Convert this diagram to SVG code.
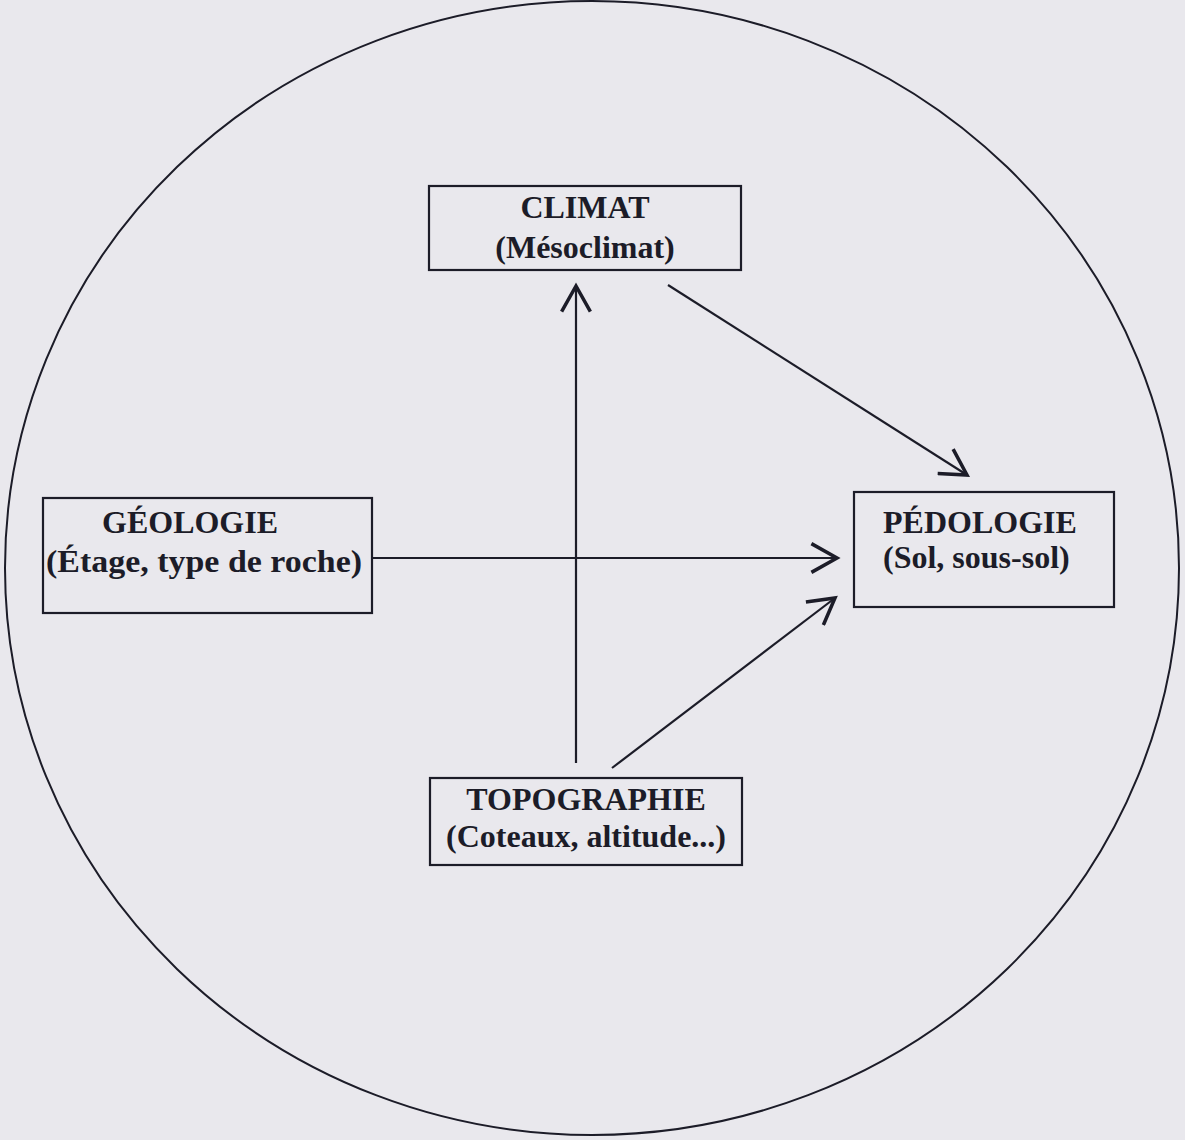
<svg xmlns="http://www.w3.org/2000/svg" width="1185" height="1140" viewBox="0 0 1185 1140">
<style>
.box{fill:none;stroke:#1c1c28;stroke-width:2.2}
.t{font-family:"Liberation Serif","Times New Roman",serif;font-weight:bold;font-size:32px;fill:#1c1c28}
.c{fill:none;stroke:#1c1c28;stroke-width:2.2}
</style>
<defs>
<marker id="ah" markerUnits="userSpaceOnUse" markerWidth="32" markerHeight="32" refX="17" refY="10" orient="auto" viewBox="0 0 20 20">
<path d="M1,1 L17,10 L1,19" fill="none" stroke="#1c1c28" stroke-width="2.2"/>
</marker>
</defs>
<rect width="1185" height="1140" fill="#e9e8ed"/>
<ellipse cx="592" cy="568" rx="587" ry="567" fill="none" stroke="#1c1c28" stroke-width="2"/>
<g id="connectors">
<line class="c" x1="576" y1="763" x2="576" y2="286" marker-end="url(#ah)"/>
<line class="c" x1="372" y1="558" x2="837" y2="558" marker-end="url(#ah)"/>
<line class="c" x1="668" y1="285" x2="967" y2="475" marker-end="url(#ah)"/>
<line class="c" x1="612" y1="768" x2="835" y2="598" marker-end="url(#ah)"/>
</g>
<g id="climat">
<rect class="box" x="429" y="186" width="312" height="84"/>
<text class="t" x="585" y="218" text-anchor="middle">CLIMAT</text>
<text class="t" x="585" y="258" text-anchor="middle">(Mésoclimat)</text>
</g>
<g id="geologie">
<rect class="box" x="43" y="498" width="329" height="115"/>
<text class="t" x="102" y="533">GÉOLOGIE</text>
<text class="t" x="46" y="572" font-size="34" textLength="316" lengthAdjust="spacingAndGlyphs">(Étage, type de roche)</text>
</g>
<g id="pedologie">
<rect class="box" x="854" y="492" width="260" height="115"/>
<text class="t" x="883" y="533">PÉDOLOGIE</text>
<text class="t" x="883" y="568">(Sol, sous-sol)</text>
</g>
<g id="topographie">
<rect class="box" x="430" y="778" width="312" height="87"/>
<text class="t" x="586" y="810" text-anchor="middle">TOPOGRAPHIE</text>
<text class="t" x="586" y="847" text-anchor="middle">(Coteaux, altitude...)</text>
</g>
</svg>
